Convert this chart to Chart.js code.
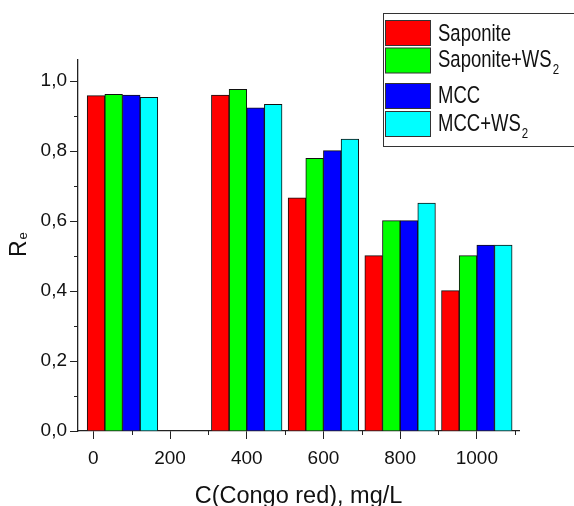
<!DOCTYPE html>
<html>
<head>
<meta charset="utf-8">
<script src="https://cdn.jsdelivr.net/npm/chart.js@4.4.1/dist/chart.umd.min.js"></script>
<style>
  body { margin: 0; background: #fff; }
  #wrap { width: 574px; height: 506px; }
</style>
</head>
<body>
<div id="wrap"><canvas id="myChart" width="574" height="506"></canvas></div>
<script>
// concentration of Congo red (mg/L) where each group of bars sits
let concentration = [76, 400, 600, 800, 1000]
let seriesNames = ['Saponite', 'Saponite+WS₂', 'MCC', 'MCC+WS₂']
let saponite = [0.958, 0.960, 0.666, 0.501, 0.401]
let saponiteWS2 = [0.962, 0.976, 0.779, 0.601, 0.501]
let mcc = [0.960, 0.923, 0.801, 0.601, 0.531]
let mccWS2 = [0.953, 0.933, 0.834, 0.651, 0.531]
let seriesColors = ['#ff0000', '#00ff00', '#0000ff', '#00ffff']

let fontFamily = '"Liberation Sans", Arial, sans-serif'

function toPoints(values) {
    let points = []
    for (let i = 0; i < values.length; i++) {
        points.push({ x: concentration[i], y: values[i] })
    }
    return points
}

function isMajorX(v) { return Math.round(v) % 200 === 0 }
function isMajorY(v) { return Math.round(v * 10) % 2 === 0 }

// text with ₂ drawn as a lowered small "2"
function drawRich(ctx, text, x, y, size, subSize, subDrop) {
    let parts = text.split('₂')
    ctx.font = size + 'px ' + fontFamily
    ctx.fillText(parts[0], x, y)
    if (parts.length > 1) {
        let w = ctx.measureText(parts[0]).width
        ctx.font = subSize + 'px ' + fontFamily
        ctx.fillText('2', x + w + 1, y + subDrop)
    }
}

const decorations = {
    id: 'decorations',
    afterDraw(chart) {
        let ctx = chart.ctx
        let xs = chart.scales.x
        let ys = chart.scales.y
        let area = chart.chartArea

        // minor ticks
        ctx.save()
        ctx.strokeStyle = '#222'
        ctx.lineWidth = 1
        ctx.beginPath()
        xs.ticks.forEach(t => {
            if (!isMajorX(t.value)) {
                let px = Math.round(xs.getPixelForValue(t.value)) + 0.5
                ctx.moveTo(px, area.bottom)
                ctx.lineTo(px, area.bottom + 4)
            }
        })
        ys.ticks.forEach(t => {
            if (!isMajorY(t.value)) {
                let py = Math.round(ys.getPixelForValue(t.value)) + 0.5
                ctx.moveTo(area.left, py)
                ctx.lineTo(area.left - 4, py)
            }
        })
        ctx.stroke()

        // axis titles
        ctx.fillStyle = '#111'
        ctx.textAlign = 'center'
        ctx.textBaseline = 'alphabetic'
        ctx.font = '23.5px ' + fontFamily
        ctx.fillText('C(Congo red), mg/L', (area.left + area.right) / 2, 503)

        ctx.save()
        ctx.translate(26, 257)
        ctx.rotate(-Math.PI / 2)
        ctx.textAlign = 'left'
        ctx.font = '23px ' + fontFamily
        ctx.fillText('R', 0, 0)
        let rw = ctx.measureText('R').width
        ctx.font = '13px ' + fontFamily
        ctx.fillText('e', rw + 1, 1)
        ctx.restore()

        // legend
        ctx.fillStyle = '#fff'
        ctx.fillRect(383, 13, 200, 133.5)
        ctx.strokeStyle = '#333'
        ctx.lineWidth = 1
        ctx.strokeRect(383.5, 13.5, 200, 133)
        let swatchTops = [20, 47.5, 83, 111]
        let baselines = [40.5, 67, 103, 131]
        ctx.textAlign = 'left'
        chart.data.datasets.forEach((ds, i) => {
            ctx.fillStyle = ds.backgroundColor
            ctx.fillRect(385.5, swatchTops[i] + 0.5, 45, 25)
            ctx.strokeStyle = '#333'
            ctx.strokeRect(385.5, swatchTops[i] + 0.5, 45, 25)
            ctx.fillStyle = '#111'
            ctx.save()
            ctx.translate(438, baselines[i])
            ctx.scale(1, 1.3)
            drawRich(ctx, ds.label, 0, 0, 18.5, 11.5, 5.5)
            ctx.restore()
        })
        ctx.restore()
    }
}

function chartJS() {
    let ctx = document.getElementById('myChart').getContext('2d')
    let allValues = [saponite, saponiteWS2, mcc, mccWS2]
    let datasets = []
    for (let i = 0; i < allValues.length; i++) {
        datasets.push({
            label: seriesNames[i],
            data: toPoints(allValues[i]),
            backgroundColor: seriesColors[i],
            borderColor: '#111',
            borderWidth: 1,
            barThickness: 17.65
        })
    }
    window.bar = new Chart(ctx, {
        type: 'bar',
        data: { datasets: datasets },
        plugins: [decorations],
        options: {
            responsive: false,
            animation: false,
            layout: { padding: { left: 0, right: 55, top: 60, bottom: 0 } },
            plugins: {
                legend: { display: false },
                tooltip: { enabled: false }
            },
            scales: {
                x: {
                    type: 'linear',
                    min: -40,
                    max: 1110,
                    offset: false,
                    afterFit: s => { s.height = 75 },
                    grid: {
                        offset: false,
                        drawOnChartArea: false,
                        tickLength: 8,
                        tickColor: c => isMajorX(c.tick.value) ? '#222' : 'rgba(0,0,0,0)'
                    },
                    border: { color: '#222', width: 1.3 },
                    ticks: {
                        stepSize: 100,
                        includeBounds: false,
                        maxRotation: 0,
                        autoSkip: false,
                        padding: 8,
                        color: '#111',
                        font: { family: fontFamily, size: 19 },
                        callback: v => isMajorX(v) ? String(v) : ''
                    }
                },
                y: {
                    min: 0,
                    max: 1.06,
                    afterFit: s => { s.width = 78 },
                    grid: {
                        drawOnChartArea: false,
                        tickLength: 8,
                        tickColor: c => isMajorY(c.tick.value) ? '#222' : 'rgba(0,0,0,0)'
                    },
                    border: { color: '#222', width: 1.3 },
                    ticks: {
                        stepSize: 0.1,
                        includeBounds: false,
                        autoSkip: false,
                        padding: 3,
                        color: '#111',
                        font: { family: fontFamily, size: 19 },
                        callback: v => isMajorY(v) ? v.toFixed(1).replace('.', ',') : ''
                    }
                }
            }
        }
    })
}

chartJS()
</script>
</body>
</html>
